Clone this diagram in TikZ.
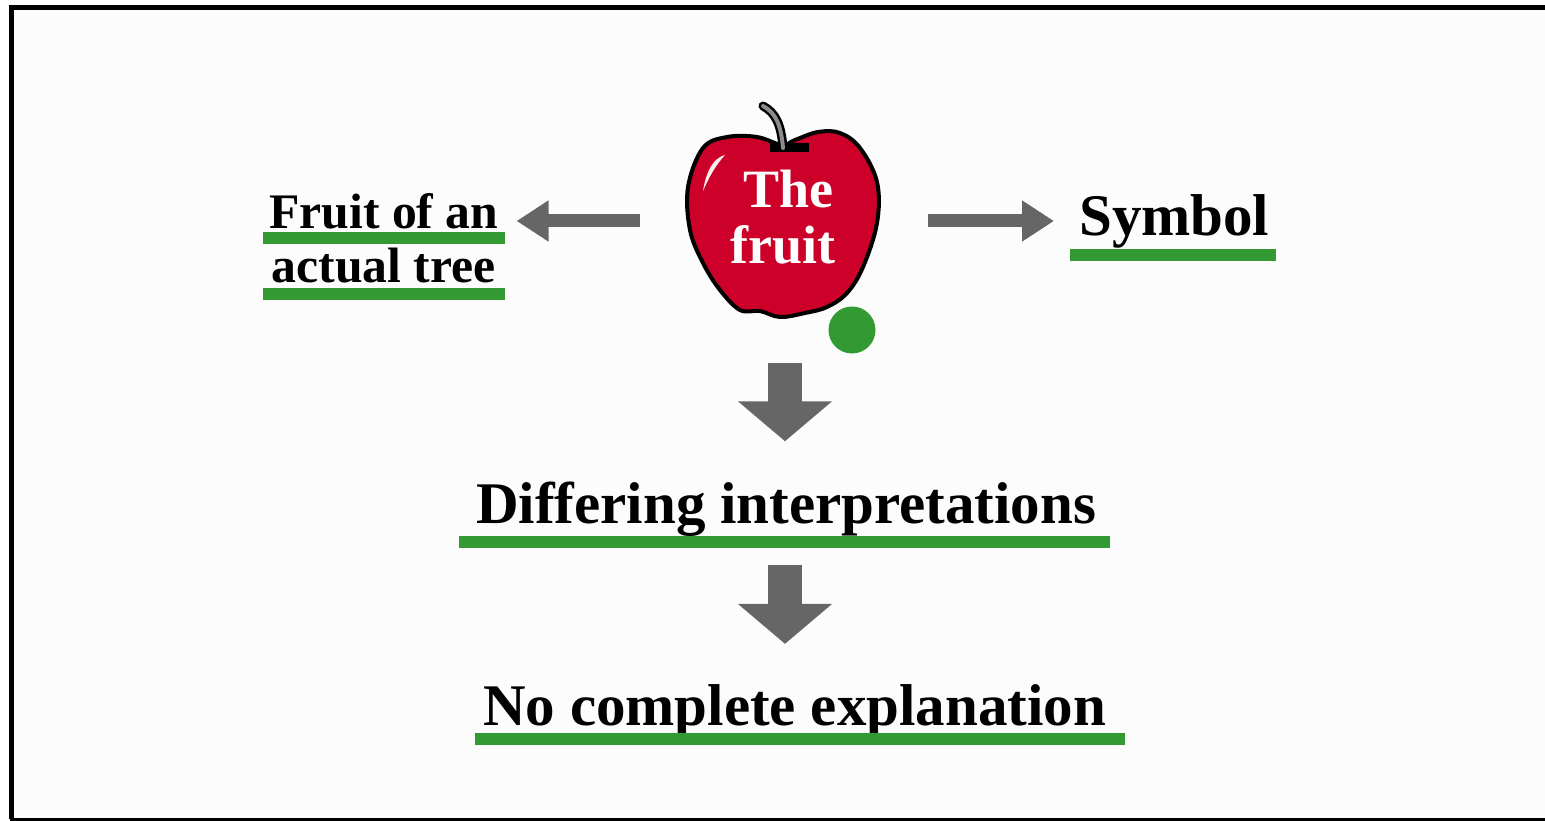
\documentclass[tikz,border=0pt]{standalone}
\usepackage{fontspec}
\setmainfont{Liberation Serif}[Ligatures=NoCommon]
\usetikzlibrary{arrows.meta}
\definecolor{barGreen}{HTML}{339933}
\definecolor{arrowGray}{HTML}{666666}
\definecolor{appleRed}{HTML}{CC0029}
\tikzset{
  label49/.style={inner sep=0pt,anchor=base west,font=\fontsize{49.7}{54}\selectfont\bfseries,align=center},
  label59/.style={inner sep=0pt,anchor=base west,font=\fontsize{59}{65}\selectfont\bfseries},
  applelabel/.style={inner sep=0pt,anchor=base west,text=white,font=\fontsize{54}{60}\selectfont\bfseries},
  bar/.style={fill=barGreen,draw=none},
  sidearrow/.style={draw=arrowGray,line width=13pt,-{Triangle[length=32pt,width=39pt,fill=arrowGray]}},
  downarrow/.style={draw=arrowGray,line width=34pt,-{Triangle[length=40pt,width=92pt,fill=arrowGray]}},
}
\begin{document}
\begin{tikzpicture}[x=1pt,y=-1pt]
\useasboundingbox (0,0) rectangle (1545,821);
\fill[white] (0,0) rectangle (1545,821);
\fill[black!1] (11,8) rectangle (1545,819);
\draw[black,line width=5pt] (1545,7.5) -- (11.5,7.5) -- (11.5,819);
\draw[black,line width=3pt] (10,819.5) -- (1545,819.5);

% apple
\draw[black,line width=9pt,line cap=round] (783,147) .. controls (781,125) and (776,113) .. (763,106);
\draw[black,line width=4pt,fill=appleRed] plot[smooth cycle,tension=0.6] coordinates {
 (782,145) (757,137) (727,137) (703,148) (688,187) (690,230) (703,263) (720,290) (740,310)
 (760,311) (780,317) (805,313) (827,307) (847,293) (863,267) (877,223) (877,182) (860,148)
 (840,133) (818,132) (795,140)};
\fill[black] (770,143) rectangle (809,152);
\draw[black!45,line width=4pt,line cap=round] (783,148) .. controls (781,125) and (776,113) .. (763,106);
\fill[white!92!appleRed] (703,191) .. controls (706,172) and (713,158) .. (725,155) .. controls (716,165) and (710,175) .. (703,191) -- cycle;
\node[applelabel] (the) at (743,208) {The};
\node[applelabel] (fruitword) at (730,263) {fruit};
\node[inner sep=0pt,minimum width=192pt,minimum height=194pt] (fruit) at (785,221) {};
\fill[barGreen] (852,330) circle (23.5pt);

% labels
\node[label49] (actual) at (269,282) {Fruit of an\\[0pt]actual tree};
\node[label59] (symbol) at (1079,236) {Symbol};
\node[label59] (differing) at (476,523) {Differing interpretations};
\node[label59] (complete) at (483,725) {No complete explanation};

% underlines
\fill[bar] (263,232) rectangle (505,244);
\fill[bar] (263,288) rectangle (505,300);
\fill[bar] (1070,249) rectangle (1276,261);
\fill[bar] (459,536) rectangle (1110,548);
\fill[bar] (475,733) rectangle (1125,745);

% connectors
\draw[sidearrow,shorten <=49pt,shorten >=18pt] (fruit.west) -- (fruit.west -| actual.east);
\draw[sidearrow,shorten <=47pt,shorten >=25pt] (fruit.east) -- (fruit.east -| symbol.west);
\draw[downarrow,shorten <=45pt,shorten >=40pt] (fruit.south) -- (fruit.south |- differing.north);
\draw[downarrow,shorten <=29pt,shorten >=40pt] (fruit.south |- differing.south) -- (fruit.south |- complete.north);
\end{tikzpicture}
\end{document}
